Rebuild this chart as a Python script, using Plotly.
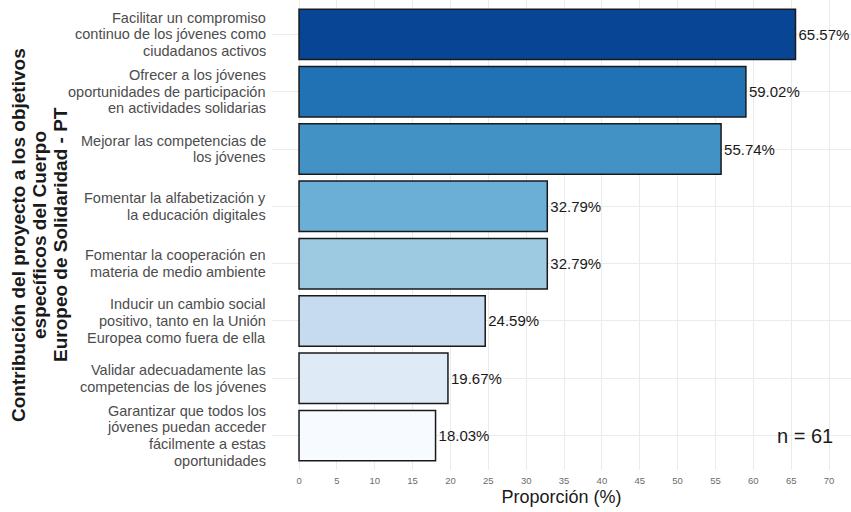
import plotly.graph_objects as go

categories = [
    "Garantizar que todos los<br>jóvenes puedan acceder<br>fácilmente a estas<br>oportunidades",
    "Validar adecuadamente las<br>competencias de los jóvenes",
    "Inducir un cambio social<br>positivo, tanto en la Unión<br>Europea como fuera de ella",
    "Fomentar la cooperación en<br>materia de medio ambiente",
    "Fomentar la alfabetización y<br>la educación digitales",
    "Mejorar las competencias de<br>los jóvenes",
    "Ofrecer a los jóvenes<br>oportunidades de participación<br>en actividades solidarias",
    "Facilitar un compromiso<br>continuo de los jóvenes como<br>ciudadanos activos",
]
values = [18.03, 19.67, 24.59, 32.79, 32.79, 55.74, 59.02, 65.57]
colors = ["#F7FBFF", "#DEEBF7", "#C6DBEF", "#9ECAE1", "#6BAED6", "#4292C6", "#2171B5", "#084594"]
x_ticks = list(range(0, 75, 5))
y_title_lines = [
    "Contribución del proyecto a los objetivos",
    "específicos del Cuerpo",
    "Europeo de Solidaridad - PT",
]

font_family = "Liberation Sans, Arial, sans-serif"
L, R, T, B = 272, 0, 0, 42
W, H = 851, 512
PW = W - L - R

def px_to_paper_x(px):
    return (px - L) / PW

fig = go.Figure(go.Bar(
    x=values,
    y=categories,
    orientation="h",
    width=0.88,
    marker=dict(color=colors, line=dict(color="#1a1a1a", width=1.5)),
    text=[f"{v:.2f}%" for v in values],
    textposition="outside",
    textfont=dict(size=15, color="#1a1a1a", family=font_family),
    cliponaxis=False,
    hoverinfo="skip",
))

# category labels (one annotation per line for tight line spacing)
line_gap = 16.7
for cat in categories:
    lines = cat.split("<br>")
    n = len(lines)
    for i, ln in enumerate(lines):
        fig.add_annotation(
            x=px_to_paper_x(268), y=cat, xref="paper", yref="y",
            xanchor="right", yanchor="middle",
            yshift=((n - 1) / 2 - i) * line_gap,
            text=ln, showarrow=False,
            font=dict(size=14.5, color="#4d4d4d", family=font_family),
        )

fig.add_annotation(
    x=66.8, y=categories[0], xref="x", yref="y", text="n = 61", showarrow=False,
    font=dict(size=20, color="#1a1a1a", family=font_family),
)

for px, ln in zip([18, 39, 60], y_title_lines):
    fig.add_annotation(
        x=px_to_paper_x(px), y=0.5, xref="paper", yref="paper",
        xanchor="center", yanchor="middle", textangle=-90,
        text=f"<b>{ln}</b>", showarrow=False,
        font=dict(size=19, color="#1a1a1a", family=font_family),
    )

fig.update_layout(
    width=W, height=H,
    margin=dict(l=L, r=R, t=T, b=B),
    plot_bgcolor="white", paper_bgcolor="white",
    font=dict(family=font_family),
    showlegend=False,
    xaxis=dict(
        range=[-3.57, 72.9], tickvals=x_ticks, ticktext=[str(t) for t in x_ticks],
        showgrid=True, gridcolor="#ebebeb", gridwidth=1, zeroline=False,
        tickfont=dict(size=9.5, color="#6b6b6b"), ticks="", ticklabelstandoff=3,
        title=dict(text="Proporción (%)", font=dict(size=18, color="#1a1a1a"), standoff=5),
        automargin=False,
    ),
    yaxis=dict(
        range=[-0.6, 7.6], showgrid=True, gridcolor="#ebebeb", gridwidth=1,
        showticklabels=False, ticks="", automargin=False,
    ),
)

fig.write_html(
    "out.html",
    config={"displayModeBar": False},
    post_script="document.body.style.margin='0';document.body.style.padding='0';",
)
